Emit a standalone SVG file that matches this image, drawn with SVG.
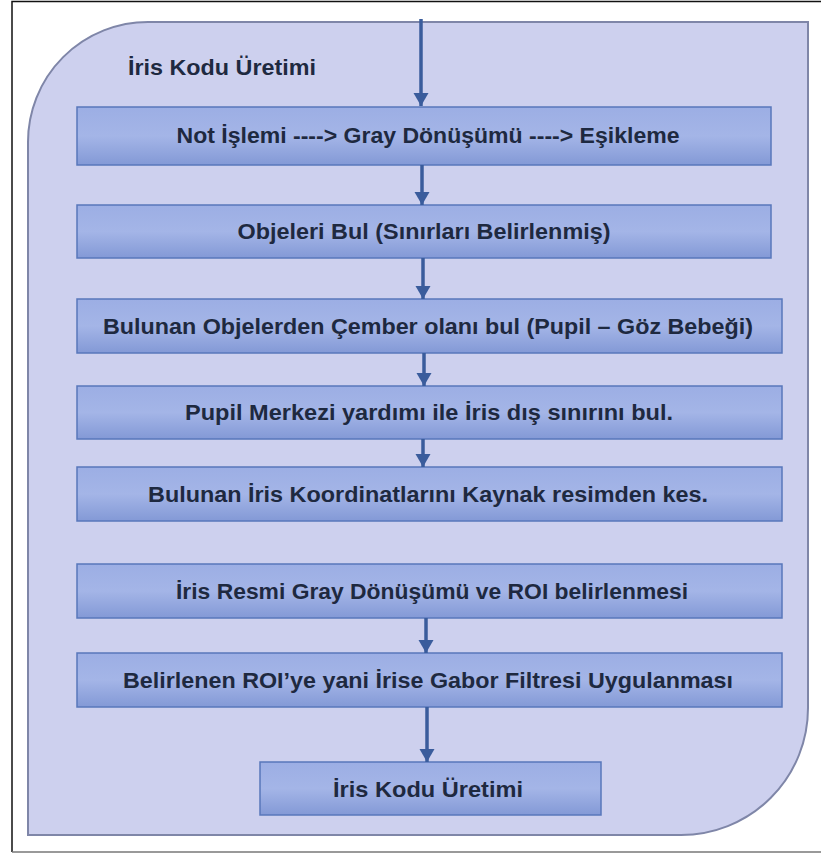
<svg xmlns="http://www.w3.org/2000/svg" width="821" height="854" viewBox="0 0 821 854">
<defs>
<linearGradient id="boxg" x1="0" y1="0" x2="0" y2="1">
<stop offset="0" stop-color="#9caee4"/>
<stop offset="0.5" stop-color="#a4b5e7"/>
<stop offset="1" stop-color="#8399d6"/>
</linearGradient>
<marker id="ah" markerUnits="userSpaceOnUse" markerWidth="16" markerHeight="16" refX="13" refY="7.5" orient="auto">
<path d="M0,0 L13,7.5 L0,15 Z" fill="#3a5c9c"/>
</marker>
<style>
.box{fill:url(#boxg);stroke:#5877bb;stroke-width:1.5}
.t{font-family:"Liberation Sans",Arial,sans-serif;font-weight:bold;font-size:21.5px;fill:#1e2940;text-anchor:middle}
.conn line{stroke:#3a5c9c;stroke-width:3.5;marker-end:url(#ah)}
</style>
</defs>
<rect x="0" y="0" width="821" height="854" fill="#ffffff"/>
<path d="M12,852 L12,1.5 L821,1.5" fill="none" stroke="#111111" stroke-width="1.5"/>
<line x1="12" y1="852" x2="821" y2="852" stroke="#777777" stroke-width="1.5"/>
<g id="container">
<path d="M148,22 L808,22 L808,708 A127,127 0 0 1 681,835 L28,835 L28,142 A120,120 0 0 1 148,22 Z" fill="#cdd0ee" stroke="#7f86a8" stroke-width="2"/>
<text x="128" y="75" style="font-family:'Liberation Sans',Arial,sans-serif;font-weight:bold;font-size:21.5px;fill:#1e2940" textLength="188" lengthAdjust="spacingAndGlyphs">İris Kodu Üretimi</text>
</g>
<g id="n1"><rect class="box" x="77" y="107" width="694" height="58"/><text class="t" x="428" y="143" textLength="503" lengthAdjust="spacingAndGlyphs">Not İşlemi ----&gt; Gray Dönüşümü ----&gt; Eşikleme</text></g>
<g id="n2"><rect class="box" x="77" y="205" width="694" height="53"/><text class="t" x="424" y="239" textLength="373" lengthAdjust="spacingAndGlyphs">Objeleri Bul (Sınırları Belirlenmiş)</text></g>
<g id="n3"><rect class="box" x="77" y="299" width="705" height="54"/><text class="t" x="428" y="334" textLength="650" lengthAdjust="spacingAndGlyphs">Bulunan Objelerden Çember olanı bul (Pupil – Göz Bebeği)</text></g>
<g id="n4"><rect class="box" x="77" y="386" width="705" height="53"/><text class="t" x="429" y="420" textLength="488" lengthAdjust="spacingAndGlyphs">Pupil Merkezi yardımı ile İris dış sınırını bul.</text></g>
<g id="n5"><rect class="box" x="77" y="467" width="705" height="54"/><text class="t" x="428" y="502" textLength="560" lengthAdjust="spacingAndGlyphs">Bulunan İris Koordinatlarını Kaynak resimden kes.</text></g>
<g id="n6"><rect class="box" x="77" y="564" width="705" height="54"/><text class="t" x="432" y="599" textLength="512" lengthAdjust="spacingAndGlyphs">İris Resmi Gray Dönüşümü ve ROI belirlenmesi</text></g>
<g id="n7"><rect class="box" x="77" y="653" width="705" height="54"/><text class="t" x="428" y="688" textLength="610" lengthAdjust="spacingAndGlyphs">Belirlenen ROI’ye yani İrise Gabor Filtresi Uygulanması</text></g>
<g id="n8"><rect class="box" x="260" y="762" width="341" height="53"/><text class="t" x="428" y="797" textLength="190" lengthAdjust="spacingAndGlyphs">İris Kodu Üretimi</text></g>
<g id="connectors" class="conn">
<line x1="421" y1="19" x2="421" y2="106"/>
<line x1="422" y1="165" x2="422" y2="205"/>
<line x1="423" y1="258" x2="423" y2="299"/>
<line x1="424" y1="353" x2="424" y2="386"/>
<line x1="423" y1="439" x2="423" y2="467"/>
<line x1="426" y1="618" x2="426" y2="653"/>
<line x1="427" y1="707" x2="427" y2="762"/>
</g>
</svg>
